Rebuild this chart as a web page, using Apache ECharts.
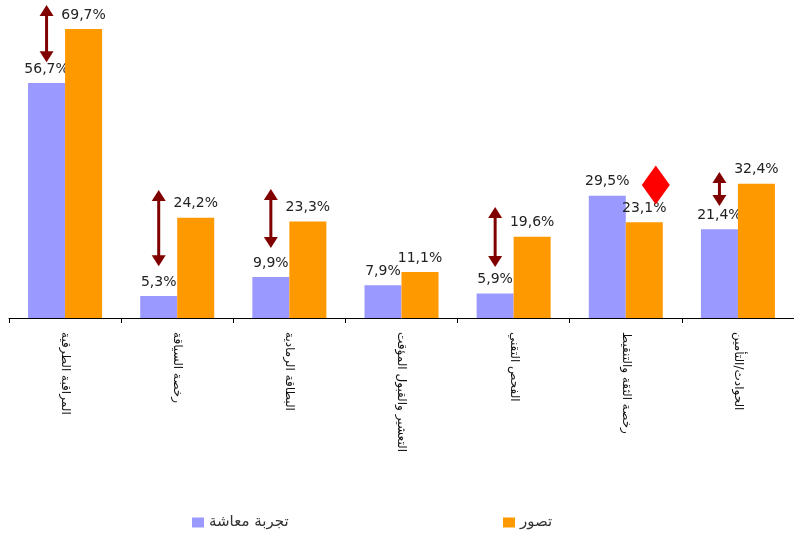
<!DOCTYPE html>
<html><head><meta charset="utf-8">
<script src="https://cdn.jsdelivr.net/npm/echarts@6/dist/echarts.min.js"></script>
<style>html,body{margin:0;padding:0;background:#fff}#c{width:794px;height:534px}</style>
</head><body><div id="c"></div>
<script>
var categories = ['المراقبة الطرقية','رخصة السياقة','البطاقة الرمادية','التعشير والقبول المؤقت','الفحص التقني','رخصة الثقة والتنقيط','الحوادث/التأمين'];
var seriesNames = ['تجربة معاشة','تصور'];
var experienced = [56.7, 5.3, 9.9, 7.9, 5.9, 29.5, 21.4];
var perceived = [69.7, 24.2, 23.3, 11.1, 19.6, 23.1, 32.4];
// double arrows: [category index, upper end value, lower end value]
var arrows = [[0, 75.5, 61.7], [1, 30.9, 12.5], [2, 31.1, 16.9], [4, 26.8, 12.3], [6, 35.2, 27.0]];
// diamond marker: [category index, value]
var diamonds = [[5, 32.1]];

var chart = echarts.init(document.getElementById('c'), null, {renderer:'canvas'});
function fmt(p){ return String(p.value.toFixed(1)).replace('.', ',') + '%'; }
var labelStyle = {show:true, position:'top', distance:7, formatter:fmt, color:'#222', fontFamily:'DejaVu Sans', fontSize:14};

chart.setOption({
  animation:false,
  grid:{left:9, top:3, width:788, height:315, containLabel:false},
  legend:[
    {data:[seriesNames[0]], left:187, top:510, icon:'rect', itemWidth:12, itemHeight:10, itemGap:8,
     textStyle:{fontFamily:'DejaVu Sans', fontSize:15, color:'#333'}},
    {data:[seriesNames[1]], left:498, top:510, icon:'rect', itemWidth:12, itemHeight:10, itemGap:8,
     textStyle:{fontFamily:'DejaVu Sans', fontSize:15, color:'#333'}}
  ],
  xAxis:{type:'category', data:categories,
    axisLine:{lineStyle:{color:'#000', width:1}},
    axisTick:{show:true, length:5, lineStyle:{color:'#000'}},
    axisLabel:{rotate:-90, margin:14, fontFamily:'DejaVu Sans', fontSize:12, color:'#111', interval:0}},
  yAxis:{type:'value', min:0, max:76, show:false, splitLine:{show:false}},
  series:[
    {name:seriesNames[0], type:'bar', data:experienced, barGap:'0%', barCategoryGap:'34%',
     itemStyle:{color:'#9999FF'}, label:labelStyle},
    {name:seriesNames[1], type:'bar', data:perceived, barGap:'0%', barCategoryGap:'34%',
     itemStyle:{color:'#FF9900'}, label:labelStyle, z:3},
    {type:'custom', data:arrows, encode:{x:0, y:[1,2]}, z:5, silent:true,
     renderItem:function(params, api){
       var idx = api.value(0);
       var p1 = api.coord([idx, api.value(1)]);
       var p2 = api.coord([idx, api.value(2)]);
       var bw = api.size([1,0])[0] * 0.66 / 2;
       var x = p1[0] - bw/2;
       var hw = 7, hh = 11, sw = 1.5;
       var col = '#800000';
       return {type:'group', children:[
         {type:'rect', shape:{x:x-sw, y:p1[1]+hh-1, width:sw*2, height:(p2[1]-p1[1])-2*hh+2}, style:{fill:col}},
         {type:'polygon', shape:{points:[[x, p1[1]], [x-hw, p1[1]+hh], [x+hw, p1[1]+hh]]}, style:{fill:col}},
         {type:'polygon', shape:{points:[[x, p2[1]], [x-hw, p2[1]-hh], [x+hw, p2[1]-hh]]}, style:{fill:col}}
       ]};
     }},
    {type:'scatter', data:diamonds, symbol:'diamond', symbolSize:[28,39], symbolOffset:[30,0],
     itemStyle:{color:'#FF0000', opacity:1}, z:6, silent:true}
  ]
});
</script></body></html>
